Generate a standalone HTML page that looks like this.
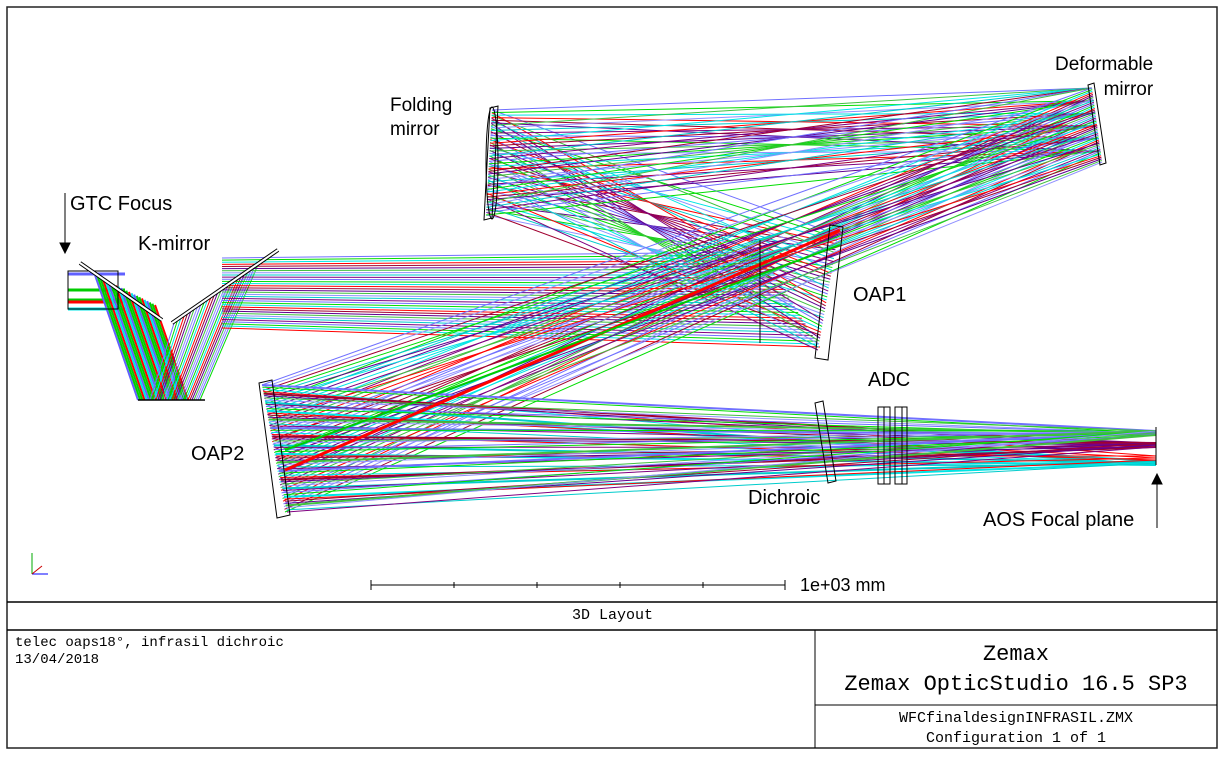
<!DOCTYPE html>
<html><head><meta charset="utf-8"><style>
html,body{margin:0;padding:0;background:#fff;}
#c{position:absolute;left:0;top:0;width:1225px;height:757px;}
.lb{position:absolute;font-family:"Liberation Sans",sans-serif;font-size:20px;color:#000;}
.m{position:absolute;font-family:"Liberation Mono",monospace;color:#000;}
</style></head><body>
<svg id="c" width="1225" height="757" xmlns="http://www.w3.org/2000/svg">
<rect x="7" y="7" width="1210" height="741" fill="none" stroke="#222" stroke-width="1.5"/>
<g id="rays" stroke-width="1" fill="none"></g>
<g stroke="#000" fill="none" stroke-width="1">
<rect x="68" y="271" width="50" height="38"/>
<line x1="80" y1="263" x2="162" y2="320" stroke-width="4"/><line x1="80" y1="263" x2="162" y2="320" stroke="#fff" stroke-width="2"/>
<line x1="172" y1="323" x2="278" y2="250" stroke-width="4"/><line x1="172" y1="323" x2="278" y2="250" stroke="#fff" stroke-width="2"/>
<line x1="138" y1="400" x2="205" y2="400" stroke-width="1.5"/>
<polygon points="490,108 498,106 492,218 484,220"/>
<ellipse cx="492" cy="163" rx="6" ry="56"/>
<polygon points="1088,85 1094,83 1106,163 1100,165"/>
<polygon points="830,225 843,227 828,360 815,358"/>
<line x1="760" y1="240" x2="760" y2="343"/>
<polygon points="259,383 272,380 290,515 277,518"/>
<polygon points="815,403 823,401 836,481 828,483"/>
<rect x="878" y="407" width="12" height="77"/><rect x="895" y="407" width="12" height="77"/>
<line x1="884" y1="407" x2="884" y2="484"/><line x1="902" y1="407" x2="902" y2="484"/>
<line x1="1156" y1="427" x2="1156" y2="465"/>
<line x1="65" y1="193" x2="65" y2="245"/><polygon points="60,243 70,243 65,253" fill="#000"/>
<line x1="1157" y1="528" x2="1157" y2="482"/><polygon points="1152,484 1162,484 1157,474" fill="#000"/>
<line x1="371" y1="585" x2="785" y2="585"/>
<line x1="371" y1="580" x2="371" y2="590"/><line x1="785" y1="580" x2="785" y2="590"/>
<line x1="454" y1="582" x2="454" y2="588"/><line x1="537" y1="582" x2="537" y2="588"/><line x1="620" y1="582" x2="620" y2="588"/><line x1="703" y1="582" x2="703" y2="588"/>
<line x1="32" y1="574" x2="32" y2="553" stroke="#0a0"/><line x1="32" y1="574" x2="48" y2="574" stroke="#00f"/><line x1="32" y1="574" x2="42" y2="566" stroke="#c00"/>
<line x1="7" y1="602" x2="1217" y2="602" stroke-width="1.5"/>
<line x1="7" y1="630" x2="1217" y2="630" stroke-width="1.5"/>
<line x1="815" y1="630" x2="815" y2="748" stroke-width="1"/>
<line x1="815" y1="705" x2="1217" y2="705" stroke-width="1"/>
</g>
</svg>
<div class="lb" style="left:390px;top:94px;line-height:24px;font-size:19px">Folding<br>mirror</div>
<div class="lb" style="left:1055px;top:52px;line-height:25px;text-align:right;font-size:19px">Deformable<br>mirror</div>
<div class="lb" style="left:70px;top:193px">GTC Focus</div>
<div class="lb" style="left:138px;top:233px">K-mirror</div>
<div class="lb" style="left:853px;top:284px">OAP1</div>
<div class="lb" style="left:868px;top:369px">ADC</div>
<div class="lb" style="left:191px;top:443px">OAP2</div>
<div class="lb" style="left:748px;top:487px">Dichroic</div>
<div class="lb" style="left:983px;top:509px">AOS Focal plane</div>
<div class="lb" style="left:800px;top:575px;font-size:18px">1e+03 mm</div>
<div class="m" style="left:0;width:1225px;text-align:center;top:607px;font-size:15px">3D Layout</div>
<div class="m" style="left:15px;top:635px;font-size:14px;line-height:17px">telec oaps18°, infrasil dichroic<br>13/04/2018</div>
<div class="m" style="left:815px;width:402px;text-align:center;top:640px;font-size:22px;line-height:30px">Zemax<br>Zemax OpticStudio 16.5 SP3</div>
<div class="m" style="left:815px;width:402px;text-align:center;top:709px;font-size:15px;line-height:20px">WFCfinaldesignINFRASIL.ZMX<br>Configuration 1 of 1</div>
<script>
var g=document.getElementById('rays');
var cols=['#7070ff','#00dd00','#00e5e5','#ff0000','#a00030','#600090','#40c040','#9090ff','#00cccc','#800080'];
function L(x1,y1,x2,y2,c,w){var l=document.createElementNS('http://www.w3.org/2000/svg','line');l.setAttribute('x1',x1);l.setAttribute('y1',y1);l.setAttribute('x2',x2);l.setAttribute('y2',y2);l.setAttribute('stroke',c);if(w)l.setAttribute('stroke-width',w);g.appendChild(l);}
function bundle(a1,a2,b1,b2,n){for(var i=0;i<n;i++){var t=i/(n-1);var c=cols[i%cols.length];var s=(i*7)%n/(n-1);L(a1[0]+(a2[0]-a1[0])*t,a1[1]+(a2[1]-a1[1])*t,b1[0]+(b2[0]-b1[0])*s,b1[1]+(b2[1]-b1[1])*s,c);}}
var kc=['#6060ff','#00cc00','#00cc00','#ff0000','#00e5e5'],ky=[274,290,300,302,309];
for(var i=0;i<5;i++)L(68,ky[i],125,ky[i],kc[i],3);
for(var i=0;i<24;i++){var t=i/23;L(95+t*60,275+t*30,138+t*50,400,kc[i%5],2);}
for(var i=0;i<26;i++){var t=i/25;L(150+t*50,400,175+t*85,320-t*60,cols[i%8]);}
for(var i=0;i<34;i++){var t=i/33;L(222,258+t*70,760+t*60,252+t*95,cols[i%10]);}
bundle([838,235],[818,350],[492,110],[486,215],40);
bundle([492,110],[486,215],[1092,88],[1102,162],42);
bundle([1092,88],[1102,162],[262,385],[285,512],48);
var foc=[433,433,463,458,445,445,433,433,463,445];
for(var i=0;i<60;i++){var t=i/59;var c=cols[i%10];L(262+t*25,385+t*127,1156,foc[i%10]+((i%3)-1)*2,c,(i%4==0)?2:1);}
L(285,470,840,230,'#ff0000',3);L(285,450,840,245,'#00cc00',2);
</script>
</body></html>
